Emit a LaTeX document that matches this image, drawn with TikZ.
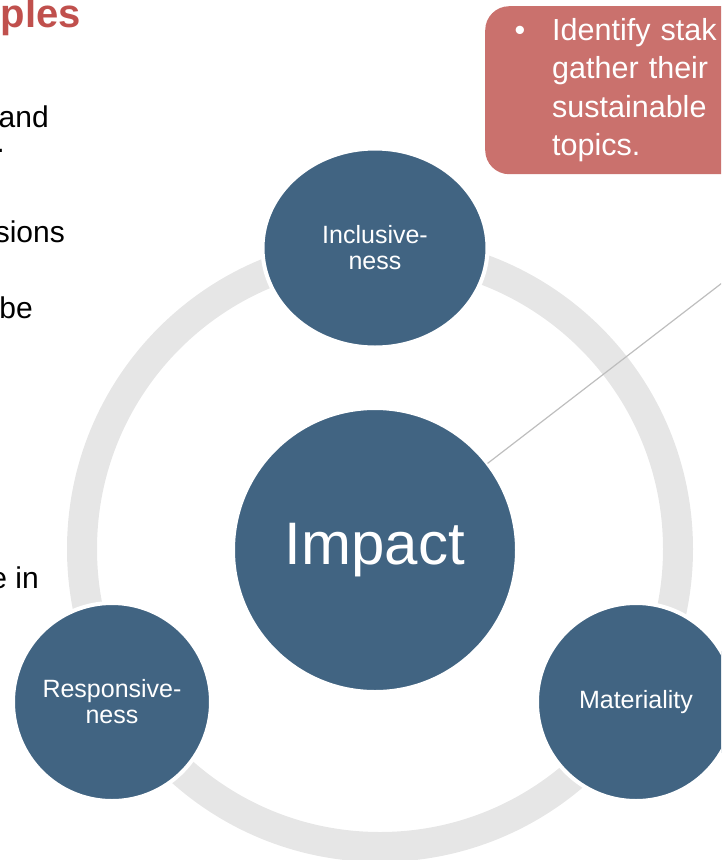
\documentclass[tikz,border=0pt]{standalone}
\usepackage{fontspec}
\setmainfont{Liberation Sans}
\usetikzlibrary{shapes.geometric}
\definecolor{ringgray}{RGB}{230,230,230}
\definecolor{discblue}{RGB}{65,100,130}
\definecolor{noterose}{RGB}{202,113,109}
\definecolor{titlered}{RGB}{192,80,77}
\definecolor{leadgray}{RGB}{190,190,190}

\begin{document}
\begin{tikzpicture}[x=1pt,y=-1pt,
  disc/.style={circle,fill=discblue,draw=white,line width=4pt,text=white,inner sep=0pt,outer sep=0pt,align=center,font=\fontsize{25}{26}\selectfont},
  sidetext/.style={anchor=base east,inner sep=0pt,font=\fontsize{30}{36}\selectfont},
  notebox/.style={anchor=north west,fill=noterose,rounded corners=24pt,text=white,align=left,text width=220pt,inner xsep=67pt,minimum height=168pt,font=\fontsize{30.5}{38.3}\selectfont}]
\useasboundingbox (0,0) rectangle (721,860);
\clip (0,0) rectangle (721,860);

\node[sidetext,font=\bfseries\fontsize{40}{40}\selectfont,text=titlered] (title) at (81,27) {ples};
\node[sidetext] (and) at (49,127.5) {and};
\node[sidetext] (dot) at (5,152) {.};
\node[sidetext] (sions) at (65,242) {sions};
\node[sidetext] (be) at (33,318) {be};
\node[sidetext] (ein) at (39,588) {e in};

\draw[ringgray,line width=30pt] (380,549) circle (298);

\node[notebox] (note) at (485,6) {\llap{\textbullet\hspace{27pt}}Identify stak\\gather their\\sustainable\\topics.};

\node[disc,minimum size=284pt,font=\fontsize{60}{60}\selectfont] (impact) at (375,550) {Impact};
\coordinate (leadend) at (735,273);
\draw[leadgray,line width=1.2pt] (impact) -- (leadend);

\node[disc,ellipse,minimum width=225pt,minimum height=199pt] (incl) at (375,248) {Inclusive-\\ness};
\node[disc,minimum size=198pt] (resp) at (112,702) {Responsive-\\ness};
\node[disc,minimum size=198pt] (mat) at (636,702) {Materiality};

\end{tikzpicture}
\end{document}
